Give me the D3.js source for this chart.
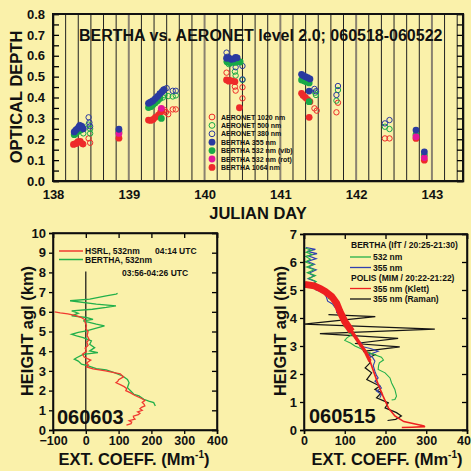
<!DOCTYPE html>
<html>
<head>
<meta charset="utf-8">
<script src="https://cdn.jsdelivr.net/npm/d3@7"></script>
<style>
  body { margin: 0; background: #faf1aa; }
  svg { display: block; font-family: "Liberation Sans", Arial, sans-serif; font-weight: bold; }
</style>
</head>
<body>
<div id="chart"></div>
<script>
// ---------------- data ----------------
// top panel: [julian day, optical depth]
var aeronet1020 = [
  [138.36, 0.188], [138.40, 0.176], [138.47, 0.204], [138.49, 0.183],
  [139.47, 0.34], [139.49, 0.33], [139.52, 0.32], [139.58, 0.343], [139.62, 0.343],
  [140.29, 0.519], [140.33, 0.484], [140.40, 0.452], [140.41, 0.433], [140.50, 0.449], [140.50, 0.396],
  [141.45, 0.348], [141.48, 0.337], [141.74, 0.329], [141.76, 0.375],
  [142.38, 0.204], [142.44, 0.204]
];
var aeronet500 = [
  [138.36, 0.245], [138.40, 0.228], [138.47, 0.27], [138.49, 0.25], [138.49, 0.228],
  [139.45, 0.40], [139.47, 0.412], [139.52, 0.407], [139.58, 0.405], [139.62, 0.41],
  [140.29, 0.571], [140.32, 0.56], [140.40, 0.524], [140.41, 0.505], [140.50, 0.484],
  [141.46, 0.423], [141.47, 0.412], [141.74, 0.385], [141.76, 0.436],
  [142.38, 0.26], [142.44, 0.249]
];
var aeronet380 = [
  [138.35, 0.268], [138.39, 0.252], [138.47, 0.305], [138.48, 0.28], [138.49, 0.262],
  [139.40, 0.41], [139.47, 0.44], [139.50, 0.445], [139.58, 0.432], [139.62, 0.432],
  [140.29, 0.615], [140.30, 0.595], [140.33, 0.58], [140.41, 0.545], [140.50, 0.551], [140.50, 0.487],
  [141.45, 0.441], [141.47, 0.43], [141.74, 0.412], [141.76, 0.455],
  [142.38, 0.276], [142.44, 0.292]
];
var bertha355 = [
  [138.28, 0.235], [138.30, 0.243], [138.32, 0.25], [138.34, 0.258], [138.36, 0.265], [138.38, 0.262], [138.40, 0.25],
  [138.87, 0.248],
  [139.26, 0.372], [139.28, 0.376], [139.30, 0.38], [139.32, 0.385], [139.35, 0.395], [139.38, 0.405], [139.41, 0.418], [139.44, 0.428], [139.46, 0.436],
  [140.29, 0.588], [140.32, 0.59], [140.35, 0.583], [140.38, 0.585], [140.41, 0.592], [140.43, 0.59],
  [141.28, 0.511], [141.30, 0.505], [141.33, 0.50], [141.36, 0.495], [141.39, 0.489], [141.38, 0.431],
  [142.79, 0.244], [142.90, 0.14]
];
var bertha532vib = [
  [138.28, 0.222], [138.30, 0.228], [138.32, 0.236], [138.34, 0.24], [138.37, 0.245],
  [138.87, 0.235],
  [139.26, 0.352], [139.29, 0.356], [139.32, 0.365], [139.35, 0.375], [139.38, 0.385], [139.41, 0.395], [139.43, 0.30],
  [140.30, 0.57], [140.34, 0.565], [140.40, 0.568], [140.45, 0.572], [140.47, 0.57],
  [141.28, 0.484], [141.31, 0.48], [141.34, 0.475], [141.38, 0.47], [141.38, 0.38],
  [142.79, 0.222], [142.90, 0.125]
];
var bertha532rot = [[138.87, 0.228], [139.43, 0.348], [142.79, 0.212], [142.90, 0.112]];
var bertha1064 = [
  [138.27, 0.175], [138.29, 0.178], [138.31, 0.18], [138.33, 0.188], [138.36, 0.19], [138.39, 0.178],
  [138.87, 0.205],
  [139.26, 0.292], [139.29, 0.29], [139.32, 0.295], [139.35, 0.305], [139.39, 0.315], [139.42, 0.33], [139.44, 0.335],
  [140.29, 0.484], [140.32, 0.478], [140.36, 0.48], [140.40, 0.476], [140.46, 0.351],
  [141.28, 0.42], [141.30, 0.41], [141.33, 0.40], [141.36, 0.39], [141.39, 0.38], [141.38, 0.305],
  [142.79, 0.204], [142.90, 0.10]
];
var dayTicks = [138, 139, 140, 141, 142, 143];

// bottom left, 060603: [height km, ext. coeff Mm-1]
var hsrl0603 = [
  [0.25, 124], [0.32, 138], [0.4, 140], [0.47, 132], [0.55, 150], [0.62, 146], [0.7, 145], [0.78, 160],
  [0.85, 165], [0.92, 158], [1.0, 172], [1.08, 165], [1.15, 170], [1.22, 180], [1.3, 178], [1.4, 172],
  [1.5, 180], [1.6, 170], [1.75, 150], [1.9, 135], [2.0, 122], [2.1, 125], [2.2, 117], [2.3, 105],
  [2.4, 92], [2.48, 98], [2.55, 100], [2.7, 115], [2.85, 105], [3.0, 60], [3.1, 22], [3.2, 2],
  [3.3, 8], [3.4, 2], [3.55, 15], [3.62, 5], [3.7, -5], [3.85, -10], [4.0, 2], [4.15, -2],
  [4.3, 7], [4.45, 3], [4.6, 10], [4.8, 4], [5.0, 7], [5.15, 0], [5.3, 2], [5.45, -2],
  [5.6, -3], [5.72, -15], [5.8, -30], [5.9, -55], [5.95, -78], [6.0, -95]
];
var bertha0603 = [
  [1.22, 212], [1.39, 207], [1.47, 192], [1.56, 177], [1.73, 162], [1.81, 147], [1.98, 137], [2.15, 127],
  [2.4, 132], [2.57, 127], [2.74, 112], [2.91, 87], [3.05, 62], [3.12, 32], [3.25, 7], [3.34, -13],
  [3.5, -23], [3.6, -35], [3.67, -28], [3.84, -8], [3.93, 37], [4.01, 12], [4.18, 27], [4.35, 12],
  [4.52, 17], [4.69, -8], [4.78, -28], [4.86, -43], [4.95, -23], [5.03, 2], [5.29, 57], [5.37, 32],
  [5.54, -8], [5.62, 22], [5.71, 2], [5.79, -43], [5.93, -23], [6.05, -43], [6.13, 20], [6.22, 62],
  [6.3, 92], [6.39, 32], [6.56, -48], [6.64, 12], [6.81, 62], [6.9, 92], [6.93, 97]
];

// bottom right, 060515: [height km, ext. coeff Mm-1]
var bertha532_0515 = [
  [6.5, 3], [6.42, 18], [6.35, 5], [6.27, 20], [6.2, 4], [6.1, 16], [6.0, 3], [5.9, 22], [5.82, 6],
  [5.72, 25], [5.62, 8], [5.52, 28], [5.42, 12], [5.3, 30], [5.2, 20], [5.1, 40], [5.0, 35], [4.9, 50],
  [4.8, 62], [4.7, 60], [4.6, 75], [4.5, 72], [4.4, 82], [4.3, 80], [4.2, 88], [4.1, 84], [4.0, 92],
  [3.9, 95], [3.8, 100], [3.7, 98], [3.6, 112], [3.5, 108], [3.4, 118], [3.3, 106], [3.2, 100],
  [3.1, 115], [3.0, 125], [2.9, 140], [2.8, 150], [2.7, 172], [2.6, 190], [2.5, 195], [2.4, 185],
  [2.3, 183], [2.16, 182], [2.04, 199], [1.86, 211], [1.68, 215], [1.45, 223], [1.21, 227], [1.09, 223], [1.07, 215]
];
var bertha355_0515 = [
  [6.52, 5], [6.45, 28], [6.38, 8], [6.3, 32], [6.22, 10], [6.12, 30], [6.02, 8], [5.92, 26], [5.82, 10],
  [5.72, 30], [5.6, 12], [5.5, 25], [5.4, 10], [5.3, 28], [5.2, 22], [5.1, 35], [5.0, 30], [4.9, 48],
  [4.75, 55], [4.6, 58], [4.5, 70], [4.4, 75], [4.3, 82], [4.2, 80], [4.1, 92], [4.0, 90], [3.9, 97],
  [3.8, 105], [3.7, 100], [3.6, 112], [3.5, 110], [3.4, 120], [3.3, 125], [3.2, 130], [3.1, 142],
  [3.0, 137], [2.9, 165], [2.81, 182], [2.69, 158], [2.6, 168], [2.46, 174], [2.3, 170], [2.1, 174],
  [1.95, 178], [1.86, 182], [1.74, 174], [1.6, 185], [1.5, 190], [1.39, 178], [1.27, 190], [1.15, 186]
];
var polisKlett = [
  [5.2, 2], [5.15, 25], [5.05, 40], [4.95, 52], [4.77, 68], [4.53, 80], [4.24, 88], [3.88, 100],
  [3.52, 117], [3.17, 133], [2.81, 150], [2.46, 162], [2.04, 172], [1.63, 182], [1.21, 194],
  [0.79, 207], [0.5, 223], [0.3, 245], [0.22, 270], [0.16, 290], [0.12, 297], [0.1, 265], [0.09, 240]
];
var polisRaman = [
  [4.12, 60], [4.05, 175], [3.78, 0], [3.6, 321], [3.44, 39], [3.27, 231], [3.09, 125], [2.97, 235],
  [2.81, 145], [2.69, 174], [2.57, 158], [2.4, 162], [2.22, 150], [2.04, 166], [1.8, 154], [1.57, 186],
  [1.45, 174], [1.33, 190], [1.15, 178], [0.97, 207], [0.79, 199], [0.62, 227], [0.5, 239], [0.38, 225], [0.34, 205]
];

var red = "#ee2a2a", green = "#19a947", blue = "#2a3aa0", magenta = "#e4169a";

var svg = d3.select("#chart").append("svg")
  .attr("width", 471)
  .attr("height", 471);

svg.append("rect").attr("width", 471).attr("height", 471).attr("fill", "#faf1aa");

function styleAxis(g, size) {
  g.selectAll("path").attr("stroke-width", 1.5);
  g.selectAll("line").attr("stroke-width", 1.3);
  g.selectAll("text").attr("font-size", size).attr("font-weight", "bold")
    .attr("font-family", "Liberation Sans, Arial, sans-serif").attr("fill", "#111");
}

// ---------------- top panel ----------------
var x0 = d3.scaleLinear().domain([138, 143.41]).range([53, 463]);
var y0 = d3.scaleLinear().domain([0, 0.8]).range([181, 14]);

var topPanel = svg.append("g");

// 4-hourly lines
var vlines = d3.range(1, 33).map(k => 138 + k / 6);
topPanel.selectAll(".vline")
  .data(vlines)
  .enter()
  .append("line")
  .attr("x1", d => x0(d)).attr("x2", d => x0(d))
  .attr("y1", y0(0.8)).attr("y2", y0(0))
  .attr("stroke", d => Math.abs(d - Math.round(d)) < 0.01 ? "#8a8270" : "#222")
  .attr("stroke-width", d => Math.abs(d - Math.round(d)) < 0.01 ? 2 : 1);

topPanel.append("g")
  .attr("transform", "translate(53,0)")
  .call(d3.axisLeft(y0).tickValues(d3.range(0, 0.81, 0.05)).tickSize(-6).tickFormat(""))
  .call(g => styleAxis(g, 13));
topPanel.append("g")
  .attr("transform", "translate(53,0)")
  .call(d3.axisLeft(y0).tickValues(d3.range(0, 0.81, 0.1)).tickSize(0).tickPadding(8).tickFormat(d3.format(".1f")))
  .call(g => g.select(".domain").remove())
  .call(g => styleAxis(g, 13));
topPanel.append("g")
  .attr("transform", "translate(463,0)")
  .call(d3.axisRight(y0).tickValues(d3.range(0, 0.81, 0.05)).tickSize(-6).tickFormat(""))
  .call(g => styleAxis(g, 13));
topPanel.append("g")
  .attr("transform", "translate(0,181)")
  .call(d3.axisBottom(x0).tickValues(dayTicks).tickSize(0).tickPadding(9).tickFormat(d3.format("d")))
  .call(g => styleAxis(g, 13));
topPanel.append("rect")
  .attr("x", 53).attr("y", 14).attr("width", 410).attr("height", 167)
  .attr("fill", "none").attr("stroke", "#111").attr("stroke-width", 2);

var seriesTop = [
  { name: "AERONET 1020 nm", data: aeronet1020, color: red, open: true },
  { name: "AERONET 500 nm", data: aeronet500, color: green, open: true },
  { name: "AERONET 380 nm", data: aeronet380, color: blue, open: true },
  { name: "BERTHA 355 nm", data: bertha355, color: blue, open: false },
  { name: "BERTHA 532 nm (vib)", data: bertha532vib, color: green, open: false },
  { name: "BERTHA 532 nm (rot)", data: bertha532rot, color: magenta, open: false },
  { name: "BERTHA 1064 nm", data: bertha1064, color: red, open: false }
];

// draw order: open circles, then filled 1064, vib, rot, 355
[0, 1, 2, 6, 4, 5, 3].forEach(function(i) {
  var s = seriesTop[i];
  topPanel.append("g").selectAll("circle")
    .data(s.data)
    .enter()
    .append("circle")
    .attr("cx", d => x0(d[0]))
    .attr("cy", d => y0(d[1]))
    .attr("r", s.open ? 2.7 : 3.4)
    .attr("fill", s.open ? "none" : s.color)
    .attr("stroke", s.color)
    .attr("stroke-width", s.open ? 1 : 0);
});

var legTop = topPanel.append("g");
seriesTop.forEach(function(s, i) {
  var yy = 117 + i * 8.4;
  legTop.append("circle")
    .attr("cx", 212).attr("cy", yy)
    .attr("r", s.open ? 2.9 : 3.4)
    .attr("fill", s.open ? "none" : s.color)
    .attr("stroke", s.color).attr("stroke-width", s.open ? 1 : 0);
  legTop.append("text")
    .attr("x", 221).attr("y", yy + 2.5)
    .attr("font-size", 7).attr("fill", "#111")
    .text(s.name);
});

topPanel.append("text")
  .attr("x", 79).attr("y", 41)
  .attr("font-size", 16).attr("fill", "#111")
  .text("BERTHA vs. AERONET level 2.0; 060518-060522");

svg.append("text")
  .attr("transform", "translate(22,97) rotate(-90)")
  .attr("text-anchor", "middle")
  .attr("font-size", 16.5).attr("fill", "#111")
  .text("OPTICAL DEPTH");
svg.append("text")
  .attr("x", 258).attr("y", 219)
  .attr("text-anchor", "middle")
  .attr("font-size", 16.5).attr("fill", "#111")
  .text("JULIAN DAY");

// ---------------- bottom panels ----------------
var line = function(x, y) {
  return d3.line().x(d => x(d[1])).y(d => y(d[0]));
};

function profileFrame(g, x, y, xTicks, yTicks, l, r, t, b) {
  g.append("g").attr("transform", `translate(${l},0)`)
    .call(d3.axisLeft(y).tickValues(yTicks).tickSize(4).tickPadding(3).tickFormat(d3.format("d")))
    .call(a => styleAxis(a, 13));
  g.append("g").attr("transform", `translate(${r},0)`)
    .call(d3.axisRight(y).tickValues(yTicks).tickSize(-5).tickFormat(""))
    .call(a => styleAxis(a, 13));
  g.append("g").attr("transform", `translate(0,${b})`)
    .call(d3.axisBottom(x).tickValues(xTicks).tickSize(4).tickPadding(2).tickFormat(d3.format("d")))
    .call(a => styleAxis(a, 12.5));
  g.append("g").attr("transform", `translate(0,${t})`)
    .call(d3.axisTop(x).tickValues(xTicks).tickSize(-5).tickFormat(""))
    .call(a => styleAxis(a, 13));
  g.append("rect")
    .attr("x", l).attr("y", t).attr("width", r - l).attr("height", b - t)
    .attr("fill", "none").attr("stroke", "#111").attr("stroke-width", 1.6);
}

function extLabel(cx) {
  var t = svg.append("text")
    .attr("x", cx).attr("y", 465)
    .attr("text-anchor", "middle")
    .attr("font-size", 16.5).attr("fill", "#111");
  t.append("tspan").text("EXT. COEFF. (Mm");
  t.append("tspan").attr("font-size", 10).attr("dy", -7).text("-1");
  t.append("tspan").attr("dy", 7).text(")");
}

// left: 060603
var x1 = d3.scaleLinear().domain([-100, 400]).range([53, 217]);
var y1 = d3.scaleLinear().domain([0, 10]).range([430, 233]);
var leftPanel = svg.append("g");

leftPanel.append("line")
  .attr("x1", x1(0)).attr("x2", x1(0))
  .attr("y1", y1(0)).attr("y2", y1(8.05))
  .attr("stroke", "#111").attr("stroke-width", 1.2);
leftPanel.append("path").datum(bertha0603)
  .attr("d", line(x1, y1)).attr("fill", "none").attr("stroke", "#22b04a").attr("stroke-width", 1.3);
leftPanel.append("path").datum(hsrl0603)
  .attr("d", line(x1, y1)).attr("fill", "none").attr("stroke", "#f03a30").attr("stroke-width", 1.3);
profileFrame(leftPanel, x1, y1, d3.range(-100, 401, 100), d3.range(0, 11, 1), 53, 217, 233, 430);

leftPanel.append("line").attr("x1", 59).attr("x2", 83).attr("y1", 251).attr("y2", 251)
  .attr("stroke", "#f03a30").attr("stroke-width", 1.5);
leftPanel.append("line").attr("x1", 59).attr("x2", 83).attr("y1", 259.5).attr("y2", 259.5)
  .attr("stroke", "#22b04a").attr("stroke-width", 1.5);
leftPanel.append("text").attr("x", 85).attr("y", 254).attr("font-size", 8.5).attr("fill", "#111").text("HSRL, 532nm");
leftPanel.append("text").attr("x", 155).attr("y", 254).attr("font-size", 8.5).attr("fill", "#111").text("04:14 UTC");
leftPanel.append("text").attr("x", 85).attr("y", 262.5).attr("font-size", 8.5).attr("fill", "#111").text("BERTHA, 532nm");
leftPanel.append("text").attr("x", 122).attr("y", 276).attr("font-size", 8.5).attr("fill", "#111").text("03:56-04:26 UTC");
leftPanel.append("text").attr("x", 57).attr("y", 424).attr("font-size", 20).attr("fill", "#111").text("060603");

svg.append("text")
  .attr("transform", "translate(33,331) rotate(-90)")
  .attr("text-anchor", "middle")
  .attr("font-size", 16.5).attr("fill", "#111")
  .text("HEIGHT agl (km)");
extLabel(134);

// right: 060515
var x2 = d3.scaleLinear().domain([0, 400]).range([304, 467]);
var y2 = d3.scaleLinear().domain([0, 7]).range([430, 234]);
var rightPanel = svg.append("g");

rightPanel.append("path").datum(polisRaman)
  .attr("d", line(x2, y2)).attr("fill", "none").attr("stroke", "#151515").attr("stroke-width", 1.2);
rightPanel.append("path").datum(bertha355_0515)
  .attr("d", line(x2, y2)).attr("fill", "none").attr("stroke", "#3040b0").attr("stroke-width", 1.1);
rightPanel.append("path").datum(bertha532_0515)
  .attr("d", line(x2, y2)).attr("fill", "none").attr("stroke", "#22b04a").attr("stroke-width", 1.1);
rightPanel.append("path").datum(polisKlett)
  .attr("d", line(x2, y2)).attr("fill", "none").attr("stroke", "#ee2020").attr("stroke-width", 1.6);
rightPanel.append("path").datum(polisKlett.filter(d => d[0] >= 2.4))
  .attr("d", line(x2, y2)).attr("fill", "none").attr("stroke", "#ee2020").attr("stroke-width", 3.5);
rightPanel.append("path").datum(polisKlett.filter(d => d[0] >= 3.4))
  .attr("d", line(x2, y2)).attr("fill", "none").attr("stroke", "#ee2020").attr("stroke-width", 7);
profileFrame(rightPanel, x2, y2, d3.range(0, 401, 100), d3.range(0, 8, 1), 304, 467, 234, 430);

var legR = [
  { label: "532 nm", color: "#22b04a", y: 257 },
  { label: "355 nm", color: "#3040b0", y: 267.5 },
  { label: "355 nm (Klett)", color: "#ee2020", y: 288.5 },
  { label: "355 nm (Raman)", color: "#151515", y: 299 }
];
rightPanel.append("text").attr("x", 351).attr("y", 248).attr("font-size", 8.5).attr("fill", "#111").text("BERTHA (IfT / 20:25-21:30)");
rightPanel.append("text").attr("x", 351).attr("y", 281).attr("font-size", 8.5).attr("fill", "#111").text("POLIS (MIM / 20:22-21:22)");
legR.forEach(function(d) {
  rightPanel.append("line").attr("x1", 350).attr("x2", 371).attr("y1", d.y).attr("y2", d.y)
    .attr("stroke", d.color).attr("stroke-width", 1.3);
  rightPanel.append("text").attr("x", 373).attr("y", d.y + 3).attr("font-size", 8.5).attr("fill", "#111").text(d.label);
});
rightPanel.append("text").attr("x", 309).attr("y", 423).attr("font-size", 20).attr("fill", "#111").text("060515");

svg.append("text")
  .attr("transform", "translate(286,331) rotate(-90)")
  .attr("text-anchor", "middle")
  .attr("font-size", 16.5).attr("fill", "#111")
  .text("HEIGHT agl (km)");
extLabel(387);
</script>
</body>
</html>
